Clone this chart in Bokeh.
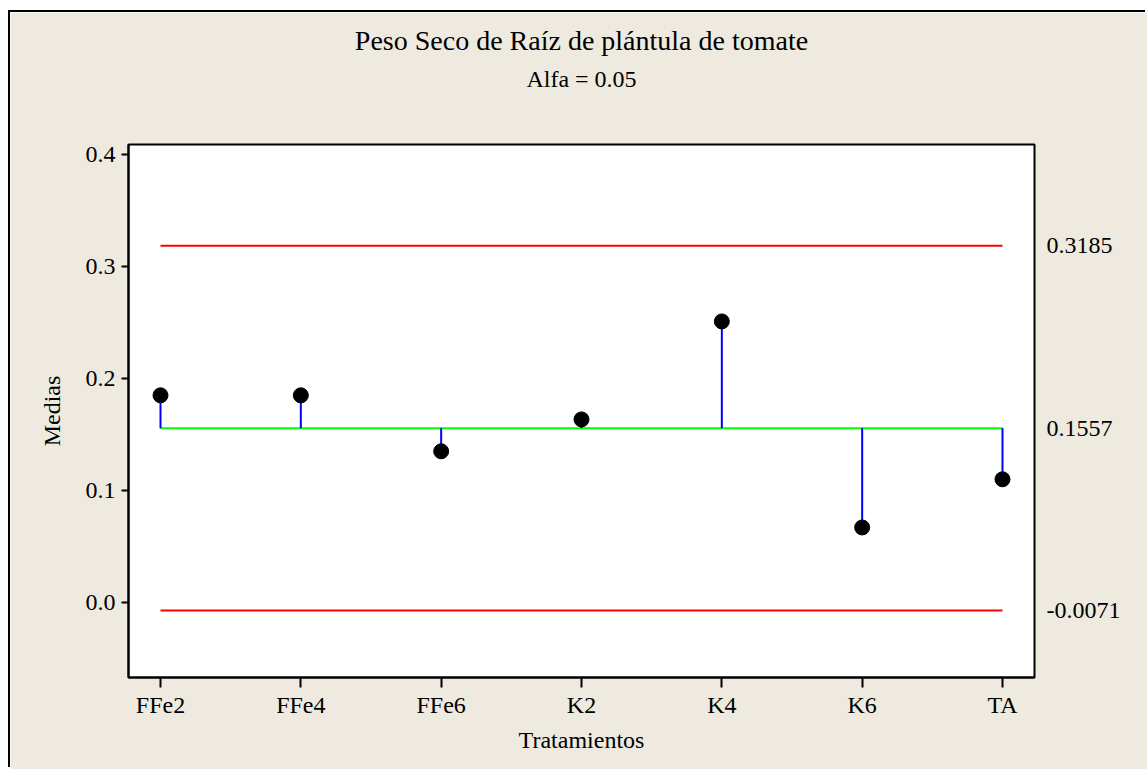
from bokeh.plotting import figure
from bokeh.models import ColumnDataSource, FixedTicker, PrintfTickFormatter, Range1d, Title, LinearAxis
from bokeh.embed import file_html
from bokeh.resources import INLINE

categories = ["FFe2", "FFe4", "FFe6", "K2", "K4", "K6", "TA"]
means = [0.185, 0.185, 0.135, 0.1635, 0.251, 0.067, 0.110]
center = 0.1557
udl = 0.3185
ldl = -0.0071
y_ticks = [0.0, 0.1, 0.2, 0.3, 0.4]
title = "Peso Seco de Raíz de plántula de tomate"
subtitle = "Alfa = 0.05"

FONT = "Liberation Serif"
BG = "#EEEAE0"

xs = list(range(len(categories)))

p = figure(width=1137, height=757, output_backend="svg", toolbar_location=None,
           x_range=Range1d(-0.228, 6.228), y_range=Range1d(-0.067, 0.409),
           min_border_left=118, min_border_right=113, min_border_top=132, min_border_bottom=92,
           margin=(12, 0, 0, 10), title=None,
           styles={"box-shadow": "-2px -2px 0px 0px black"})
p.background_fill_color = "white"
p.border_fill_color = BG
p.outline_line_color = "black"
p.outline_line_width = 2
p.grid.visible = False

# limit lines
p.line([xs[0], xs[-1]], [udl, udl], color="#FF0000", line_width=2)
p.line([xs[0], xs[-1]], [ldl, ldl], color="#FF0000", line_width=2)
p.line([xs[0], xs[-1]], [center, center], color="#00FF00", line_width=2)

src = ColumnDataSource(dict(x=xs, y=means, c=[center] * len(xs)))
p.segment(x0="x", y0="c", x1="x", y1="y", source=src, color="#0000FF", line_width=2)
p.scatter(x="x", y="y", source=src, size=15, color="black")

# axes
p.xaxis.ticker = FixedTicker(ticks=xs)
p.xaxis.major_label_overrides = {i: c for i, c in enumerate(categories)}
p.yaxis.ticker = FixedTicker(ticks=y_ticks)
p.yaxis.formatter = PrintfTickFormatter(format="%.1f")
for ax in (p.xaxis[0], p.yaxis[0]):
    ax.axis_line_width = 2
    ax.axis_line_color = "black"
    ax.major_tick_line_width = 2
    ax.major_tick_line_color = "black"
    ax.major_tick_in = 0
    ax.minor_tick_line_color = None
    ax.major_label_text_font = FONT
    ax.major_label_text_font_size = "24px"
    ax.major_label_text_color = "black"
    ax.axis_label_text_font = FONT
    ax.axis_label_text_font_size = "24px"
    ax.axis_label_text_font_style = "normal"
    ax.axis_label_text_color = "black"
p.xaxis.major_tick_out = 10
p.yaxis.major_tick_out = 7
p.xaxis.major_label_standoff = 4
p.yaxis.major_label_standoff = 6
p.xaxis.axis_label = "Tratamientos"
p.yaxis.axis_label = "Medias"
p.xaxis.axis_label_standoff = 6
p.yaxis.axis_label_standoff = 18

# right-hand limit labels
rax = LinearAxis(ticker=FixedTicker(ticks=[udl, center, ldl]),
                 formatter=PrintfTickFormatter(format="%.4f"))
rax.axis_line_color = None
rax.major_tick_line_color = None
rax.minor_tick_line_color = None
rax.major_tick_out = 0
rax.major_tick_in = 0
rax.major_label_standoff = 12
rax.major_label_text_font = FONT
rax.major_label_text_font_size = "24px"
rax.major_label_text_color = "black"
p.add_layout(rax, "right")

# titles: first added sits closest to the frame
p.add_layout(Title(text=" ", text_font=FONT, text_font_size="32px"), "above")
p.add_layout(Title(text=subtitle, text_font=FONT, text_font_size="24px", text_color="black",
                   text_font_style="normal", align="center"), "above")
p.add_layout(Title(text=title, text_font=FONT, text_font_size="28px", text_color="black",
                   text_font_style="normal", align="center", standoff=6), "above")

open("out.html", "w").write(file_html(p, INLINE))
